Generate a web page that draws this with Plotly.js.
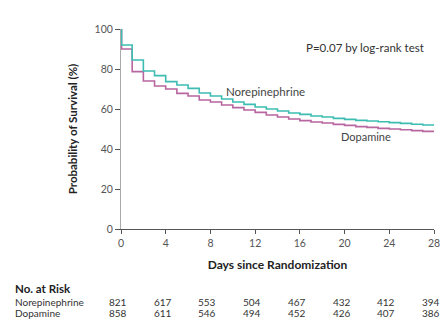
<!DOCTYPE html>
<html><head><meta charset="utf-8">
<script src="https://cdn.plot.ly/plotly-3.0.1.min.js"></script>
<style>html,body{margin:0;padding:0;background:#fff}#c{width:446px;height:324px}</style>
</head><body><div id="c"></div>
<script>
const days = [0, 0.05, 1, 2, 3, 4, 5, 6, 7, 8, 9, 10, 11, 12, 13, 14, 15, 16, 17, 18, 19, 20, 21, 22, 23, 24, 25, 26, 27, 28];
const norepinephrine = [100, 92, 84.5, 79, 76.7, 73.7, 72, 70.3, 68, 66.5, 65, 63.5, 62.3, 61, 60, 59, 58, 57.3, 56.5, 56, 55.3, 54.8, 54.3, 54, 53.6, 53.2, 52.8, 52.4, 52, 51.7];
const dopamine = [100, 90, 78.7, 74, 71.5, 70, 67.8, 66.5, 64.5, 63.5, 62, 60.7, 59.5, 58.3, 57, 56, 55, 54.2, 53.5, 53, 52.3, 51.8, 51.2, 50.8, 50.3, 50, 49.6, 49.2, 48.8, 48.6];
const xTicks = [0, 4, 8, 12, 16, 20, 24, 28];
const yTicks = [0, 20, 40, 60, 80, 100];
const riskGroups = ["Norepinephrine", "Dopamine"];
const riskNorepinephrine = [821, 617, 553, 504, 467, 432, 412, 394];
const riskDopamine = [858, 611, 546, 494, 452, 426, 407, 386];

const teal = "#3dbdb2", pink = "#b8669f";
const font = "Lato, 'Open Sans', sans-serif";
const L = 121, R = 12, T = 29, B = 95, W = 446, H = 324;
const ph = H - T - B;
const py = y => (H - B - y) / ph;
const pxp = x => (x - L) / (W - L - R);

const traces = [
  {x: days, y: dopamine, type: "scatter", mode: "lines", line: {shape: "hv", color: pink, width: 1.6}, hoverinfo: "skip"},
  {x: days, y: norepinephrine, type: "scatter", mode: "lines", line: {shape: "hv", color: teal, width: 1.6}, hoverinfo: "skip"}
];

const ann = [
  {x: 0.78, y: py(48), xref: "paper", yref: "paper", xanchor: "center", yanchor: "middle", text: "P=0.07 by log-rank test", showarrow: false, font: {family: font, size: 11.5, color: "#333"}},
  {x: 12.9, y: 69, xref: "x", yref: "y", xanchor: "center", yanchor: "middle", text: "Norepinephrine", showarrow: false, font: {family: font, size: 11.5, color: "#444"}},
  {x: 21.9, y: 46.5, xref: "x", yref: "y", xanchor: "center", yanchor: "middle", text: "Dopamine", showarrow: false, font: {family: font, size: 11, color: "#444"}},
  {x: pxp(13), y: py(288), xref: "paper", yref: "paper", xanchor: "left", yanchor: "middle", text: "<b>No. at Risk</b>", showarrow: false, font: {family: font, size: 11.5, color: "#222"}}
];
const rowY = [301.5, 313];
const riskData = [riskNorepinephrine, riskDopamine];
riskGroups.forEach((g, r) => {
  ann.push({x: pxp(13), y: py(rowY[r]), xref: "paper", yref: "paper", xanchor: "left", yanchor: "middle", text: g, showarrow: false, font: {family: font, size: 10, color: "#333"}});
  riskData[r].forEach((v, i) => {
    ann.push({x: xTicks[i], y: py(rowY[r]), xref: "x", yref: "paper", xanchor: "center", yanchor: "middle", xshift: -3, text: String(v), showarrow: false, font: {family: font, size: 10, color: "#333"}});
  });
});

const layout = {
  width: W, height: H,
  margin: {l: L, r: R, t: T, b: B, pad: 0},
  paper_bgcolor: "#fff", plot_bgcolor: "#fff",
  showlegend: false,
  xaxis: {range: [0, 28], tickvals: xTicks, ticktext: xTicks.map(String), showgrid: false, zeroline: false,
    showline: true, linecolor: "#555", linewidth: 1.3, ticks: "outside", ticklen: 4, tickcolor: "#555",
    tickfont: {family: font, size: 10.5, color: "#555"},
    title: {text: "<b>Days since Randomization</b>", font: {family: font, size: 12, color: "#222"}, standoff: 12}},
  yaxis: {range: [0, 100], tickvals: yTicks, ticktext: yTicks.map(String), showgrid: false, zeroline: false,
    showline: true, linecolor: "#aaa", linewidth: 1, ticks: "outside", ticklen: 5, tickcolor: "#555",
    tickfont: {family: font, size: 10.5, color: "#555"},
    title: {text: "<b>Probability of Survival (%)</b>", font: {family: font, size: 11.5, color: "#222"}, standoff: 14}},
  annotations: ann
};
Plotly.newPlot("c", traces, layout, {staticPlot: true, displayModeBar: false});
</script></body></html>
